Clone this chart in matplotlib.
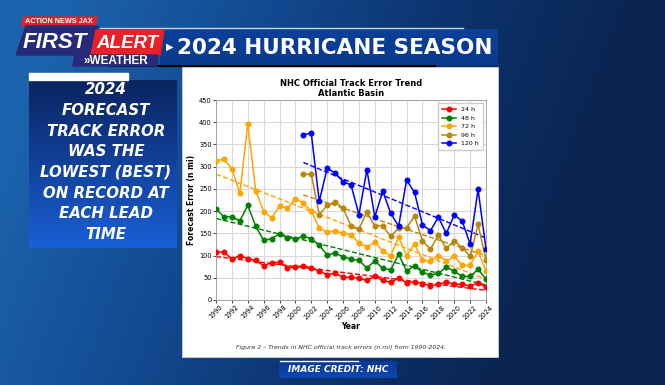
import numpy as np
import matplotlib
matplotlib.use('Agg')
import matplotlib.pyplot as plt
from matplotlib.patches import Rectangle, Polygon
from matplotlib.colors import LinearSegmentedColormap

# NHC official track errors (n mi), Atlantic basin
years = list(range(1990, 2025))
years_long = list(range(2001, 2025))

err_24 = [108, 108, 92, 100, 93, 89, 77, 84, 85, 73, 74, 77, 72, 65, 57, 60, 51, 51,
          49, 44, 53, 44, 40, 49, 39, 41, 37, 32, 35, 41, 35, 35, 32, 38, 29]
err_48 = [205, 187, 187, 178, 213, 166, 134, 138, 149, 140, 138, 143, 138, 123, 101, 106,
          97, 92, 89, 72, 88, 71, 68, 103, 65, 77, 62, 56, 60, 74, 65, 53, 53, 69, 47]
err_72 = [313, 317, 295, 240, 396, 246, 199, 185, 211, 207, 228, 218, 200, 162, 152, 156,
          150, 147, 128, 120, 130, 110, 100, 141, 100, 126, 89, 88, 100, 88, 98, 78, 78, 110, 65]
err_96 = [283, 283, 192, 213, 221, 206, 167, 160, 198, 167, 167, 143, 162, 162, 189, 133,
          114, 146, 116, 133, 118, 98, 170, 89]
err_120 = [372, 375, 222, 296, 286, 266, 259, 192, 293, 187, 245, 195, 166, 270, 242, 169,
           156, 186, 150, 191, 178, 126, 249, 115]

series = [
    ('24 h', years, err_24, 'red'),
    ('48 h', years, err_48, 'green'),
    ('72 h', years, err_72, 'orange'),
    ('96 h', years_long, err_96, 'darkgoldenrod'),
    ('120 h', years_long, err_120, 'blue'),
]

left_lines = ['2024', 'FORECAST', 'TRACK ERROR', 'WAS THE', 'LOWEST (BEST)',
              'ON RECORD AT', 'EACH LEAD', 'TIME']

W, H = 665, 385
fig = plt.figure(figsize=(W / 100, H / 100), dpi=100)

# background layer in pixel coordinates
bg = fig.add_axes([0, 0, 1, 1])
bg.set_xlim(0, W)
bg.set_ylim(H, 0)
bg.axis('off')

xx, yy = np.meshgrid(np.linspace(0, 1, 200), np.linspace(0, 1, 120))
t = np.clip(xx * 1.15 + yy * 0.25 - 0.1, 0, 1)
bg_cmap = LinearSegmentedColormap.from_list('bg', ['#1c63ad', '#134c93', '#0d3470', '#0a2552'])
bg.imshow(t, cmap=bg_cmap, extent=(0, W, H, 0), aspect='auto', zorder=0)


def grad_box(x0, y0, x1, y1, c_top, c_bot, z=2):
    g = np.linspace(0, 1, 100).reshape(-1, 1)
    cm = LinearSegmentedColormap.from_list('g', [c_top, c_bot])
    bg.imshow(g, cmap=cm, extent=(x0, x1, y1, y0), aspect='auto', zorder=z)


# header banner
bg.plot([100, 463], [28, 28], color='#c8d4e6', lw=1, zorder=3)
grad_box(160, 29, 498, 65, '#0b4099', '#0a3a8c', z=2)
bg.plot([110, 435], [65.5, 65.5], color='black', lw=1.5, zorder=3)
bg.text(170, 47, '\u25b6', color='white', fontsize=7, ha='center', va='center', zorder=4)
bg.text(335, 47.5, '2024 HURRICANE SEASON', color='white', fontsize=15.5, fontweight='bold',
        ha='center', va='center', zorder=4)

# logo
logo_font = ['Liberation Sans', 'DejaVu Sans']
bg.add_patch(Polygon([[24, 17], [97, 17], [95, 26], [22, 26]], color='#e3202a', zorder=4))
bg.text(59, 21.8, 'ACTION NEWS JAX', color='white', fontsize=5.2, fontweight='bold',
        family=logo_font, ha='center', va='center', zorder=5)
bg.add_patch(Polygon([[26, 26], [98, 26], [93, 55], [16, 55]], color='#262a78', zorder=4))
bg.add_patch(Polygon([[96, 30], [164, 30], [160, 55], [91, 55]], color='#e8202a', zorder=5))
bg.add_patch(Polygon([[75, 55], [158, 55], [157, 66], [73, 66]], color='#262a78', zorder=5))
bg.text(55, 42, 'FIRST', color='white', fontsize=16, fontweight='bold', fontstyle='italic',
        family=logo_font, ha='center', va='center', zorder=6)
bg.text(127, 43, 'ALERT', color='white', fontsize=13.5, fontweight='bold', fontstyle='italic',
        family=logo_font, ha='center', va='center', zorder=6)
bg.text(116, 60.8, '\u00bbWEATHER', color='white', fontsize=8.5, fontweight='bold',
        family=logo_font, ha='center', va='center', zorder=6)

# left text box
grad_box(29, 80, 177, 248, '#0a2460', '#1a5fd6', z=2)
bg.add_patch(Rectangle((29, 73), 99, 7, color='white', zorder=3))
for i, line in enumerate(left_lines):
    bg.text(106, 90 + i * 20.6, line, color='white', fontsize=10.8, fontweight='bold',
            fontstyle='italic', ha='center', va='center', zorder=4)

# chart panel
bg.add_patch(Rectangle((182, 67), 316, 290, facecolor='white', edgecolor='#d0d0d0',
                       lw=0.6, zorder=2))

# image credit
grad_box(279, 361, 397, 378, '#0b3a96', '#0c48b0', z=2)
bg.plot([280, 358], [361, 361], color='white', lw=1, zorder=3)
bg.text(338, 370, 'IMAGE CREDIT: NHC', color='white', fontsize=6.5, fontweight='bold',
        fontstyle='italic', ha='center', va='center', zorder=4)

# the chart itself
ax = fig.add_axes([216 / W, (H - 300) / H, 270 / W, 200 / H])
ax.set_facecolor('white')
for label, xs, ys, col in series:
    ax.plot(xs, ys, '-o', color=col, lw=1.1, ms=3.3, label=label, zorder=3)
    k, b = np.polyfit(xs, ys, 1)
    xs_arr = np.array(xs)
    ax.plot(xs_arr, k * xs_arr + b, '--', color=col, lw=1, zorder=2)

ax.set_xlim(1990, 2024)
ax.set_ylim(0, 450)
ax.set_xticks(range(1990, 2025, 2))
ax.set_yticks(range(0, 451, 50))
ax.tick_params(axis='x', labelsize=4.8, rotation=45, length=2, width=0.5, pad=1)
ax.tick_params(axis='y', labelsize=4.8, length=2, width=0.5, pad=1)
ax.grid(True, color='#d8d8d8', lw=0.8)
for s in ax.spines.values():
    s.set_color('#999999')
    s.set_linewidth(0.6)
ax.set_xlabel('Year', fontsize=5.5, fontweight='bold', labelpad=1)
ax.set_ylabel('Forecast Error (n mi)', fontsize=5.5, fontweight='bold', labelpad=2)
ax.legend(loc='upper right', fontsize=4.5, handlelength=2.3, labelspacing=0.5,
          borderpad=0.6, framealpha=1, edgecolor='#cccccc', fancybox=False)

bg.text(351, 84, 'NHC Official Track Error Trend', fontsize=6, fontweight='bold',
        ha='center', va='center', zorder=4)
bg.text(351, 94, 'Atlantic Basin', fontsize=6, fontweight='bold',
        ha='center', va='center', zorder=4)
bg.text(341, 347, 'Figure 2 \u2013 Trends in NHC official track errors (n mi) from 1990-2024.',
        fontsize=4.4, fontstyle='italic', color='#333333', ha='center', va='center', zorder=4)

fig.savefig('out.png', dpi=100)
